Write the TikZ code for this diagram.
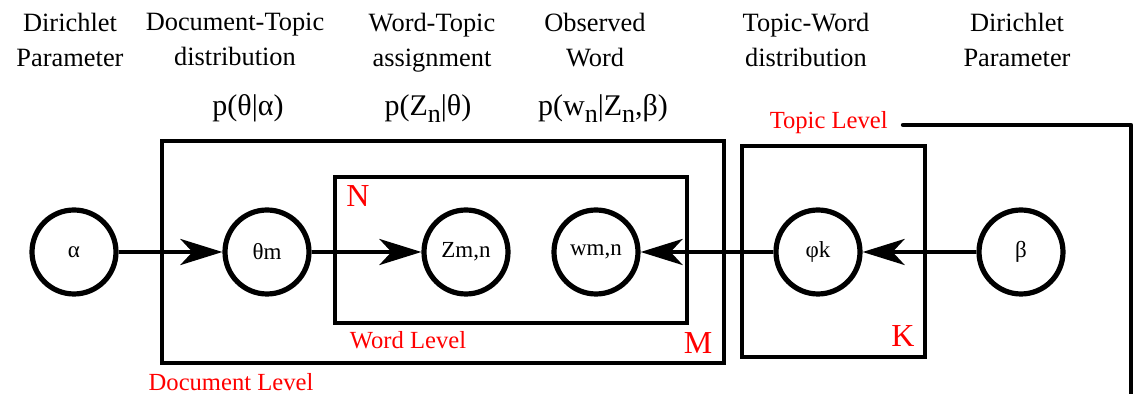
\documentclass[tikz,border=0pt]{standalone}
\usepackage{fontspec}
\setmainfont{Liberation Serif}
\usetikzlibrary{arrows.meta}
\newcommand\subn{\raisebox{-0.22em}{\fontsize{13}{14}\selectfont n}}
\begin{document}
\begin{tikzpicture}[x=0.5pt,y=-0.5pt,
  var/.style={circle,draw,line width=2.6pt,minimum size=42pt,inner sep=0pt,font=\fontsize{11.5}{13}\selectfont},
  plate/.style={draw,line width=2.4pt},
  edge/.style={line width=2.2pt,-{Stealth[length=21pt,width=13pt,inset=6pt]}},
  head/.style={align=center,anchor=north,inner sep=0pt,font=\fontsize{13.2}{17.5}\selectfont},
  formula/.style={anchor=base,inner sep=0pt,font=\fontsize{15}{16}\selectfont},
  lab/.style={text=red,inner sep=0pt,font=\fontsize{12.3}{14}\selectfont},
  biglab/.style={text=red,inner sep=0pt,font=\fontsize{16}{18}\selectfont}]
\useasboundingbox (0,0) rectangle (1136,394);
% plates
\draw[plate] (162,141) rectangle (724,363);
\draw[plate] (335,177) rectangle (687,323);
\draw[plate] (742,146) rectangle (925,357);
% variables
\node[var] (alpha) at (74,252) {α};
\node[var] (theta) at (267,252) {θm};
\node[var] (z) at (466,252) {Zm,n};
\node[var] (w) at (596,252) {wm,n};
\node[var] (phi) at (818,252) {φk};
\node[var] (beta) at (1021,252) {β};
% edges
\draw[edge] (alpha) -- (theta);
\draw[edge] (theta) -- (z);
\draw[edge] (phi) -- (w);
\draw[edge] (beta) -- (phi);
% topic level bracket
\coordinate (t1) at (903,125);
\coordinate (t2) at (1131,125);
\coordinate (t3) at (1131,396);
\draw[line width=2.2pt,line cap=round,line join=round] (t1) -- (t2) -- (t3);
% red labels
\node[biglab] (N) at (358,196) {N};
\node[lab] (wl) at (408,340) {Word Level};
\node[biglab] (M) at (698,343) {M};
\node[lab] (dl) at (231,382) {Document Level};
\node[biglab] (K) at (903,336) {K};
\node[lab,anchor=east] (tl) at (888,123) {Topic Level};
% headings
\node[head] (h1) at (70,13) {Dirichlet\\Parameter};
\node[head] (h2) at (235,13) {Document-Topic\\distribution};
\node[head] (h3) at (432,13) {Word-Topic\\assignment};
\node[head] (h4) at (595,13) {Observed\\Word};
\node[head] (h5) at (806,13) {Topic-Word\\distribution};
\node[head] (h6) at (1017,13) {Dirichlet\\Parameter};
% formulas
\node[formula] (f1) at (248,116) {p(θ|α)};
\node[formula] (f2) at (428,116) {p(Z\subn|θ)};
\node[formula] (f3) at (603,116) {p(w\subn|Z\subn,β)};
\end{tikzpicture}
\end{document}
